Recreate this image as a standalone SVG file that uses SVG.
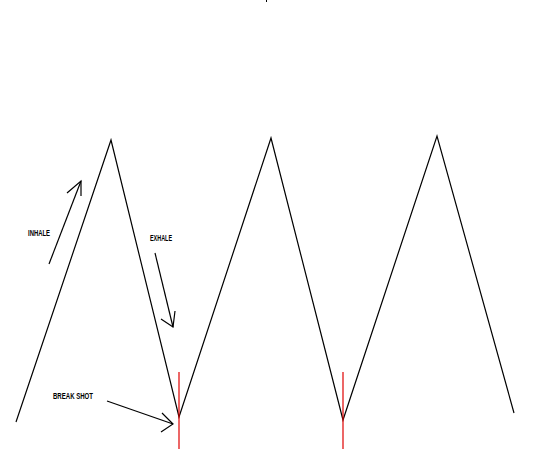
<svg xmlns="http://www.w3.org/2000/svg" width="534" height="450" viewBox="0 0 534 450">
<style>
.ln{fill:none;stroke:#000;stroke-width:1.2}
.red{fill:none;stroke:#e00000;stroke-width:1.2}
.lbl{font-family:"Liberation Sans",Arial,sans-serif;font-size:9px;font-weight:bold;fill:#000}
</style>
<rect width="534" height="450" fill="#fff"/>
<rect x="266" y="0" width="1" height="2" fill="#000"/>
<g id="wave">
<polyline class="ln" points="16,422 111,140 179,417 271,138 343,420 437,136 514,413"/>
</g>
<g id="markers">
<line class="red" x1="179" y1="372" x2="179" y2="449"/>
<line class="red" x1="343" y1="372" x2="343" y2="449"/>
</g>
<g id="connectors">
<polyline class="ln" points="49,264 81,181"/>
<polyline class="ln" points="67,193 81,181 81,196"/>
<polyline class="ln" points="155,253 173,327"/>
<polyline class="ln" points="161,319 173,327 175,311"/>
<polyline class="ln" points="107,401 173,424"/>
<polyline class="ln" points="162,413 173,424 161,432"/>
</g>
<g id="inhale"><text class="lbl" x="28" y="236" textLength="22" lengthAdjust="spacingAndGlyphs">INHALE</text></g>
<g id="exhale"><text class="lbl" x="150" y="241" textLength="22" lengthAdjust="spacingAndGlyphs">EXHALE</text></g>
<g id="breakshot"><text class="lbl" x="53" y="399" textLength="40" lengthAdjust="spacingAndGlyphs">BREAK SHOT</text></g>
</svg>
